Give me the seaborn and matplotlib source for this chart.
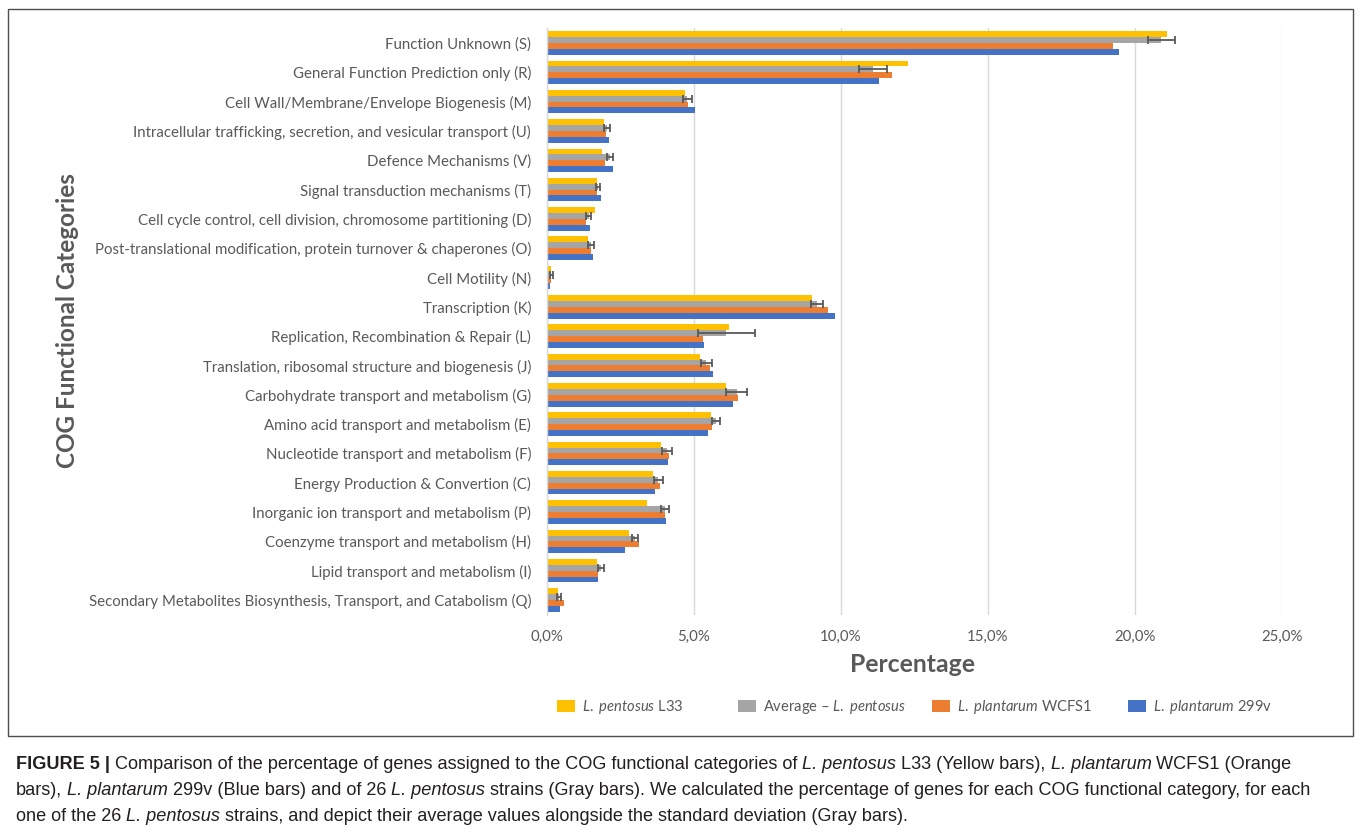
import matplotlib
matplotlib.use("Agg")
import matplotlib.pyplot as plt
from matplotlib.patches import Patch, Rectangle
import seaborn as sns
import pandas as pd

# ---- data (percent of genes per COG functional category) ----
categories = [
    "Function Unknown (S)",
    "General Function Prediction only (R)",
    "Cell Wall/Membrane/Envelope Biogenesis (M)",
    "Intracellular trafficking, secretion, and vesicular transport (U)",
    "Defence Mechanisms (V)",
    "Signal transduction mechanisms (T)",
    "Cell cycle control, cell division, chromosome partitioning (D)",
    "Post-translational modification, protein turnover & chaperones (O)",
    "Cell Motility (N)",
    "Transcription (K)",
    "Replication, Recombination & Repair (L)",
    "Translation, ribosomal structure and biogenesis (J)",
    "Carbohydrate transport and metabolism (G)",
    "Amino acid transport and metabolism (E)",
    "Nucleotide transport and metabolism (F)",
    "Energy Production & Convertion (C)",
    "Inorganic ion transport and metabolism (P)",
    "Coenzyme transport and metabolism (H)",
    "Lipid transport and metabolism (I)",
    "Secondary Metabolites Biosynthesis, Transport, and Catabolism (Q)",
]

pentosus_l33 = [21.10, 12.28, 4.68, 1.95, 1.87, 1.69, 1.63, 1.40, 0.12, 9.00,
                6.19, 5.20, 6.09, 5.59, 3.89, 3.59, 3.39, 2.78, 1.69, 0.37]
pentosus_avg = [20.90, 11.08, 4.77, 2.05, 2.14, 1.73, 1.42, 1.50, 0.15, 9.18,
                6.10, 5.42, 6.45, 5.76, 4.07, 3.78, 4.01, 3.00, 1.83, 0.42]
pentosus_sd = [0.45, 0.48, 0.15, 0.10, 0.10, 0.07, 0.08, 0.10, 0.04, 0.20,
               0.97, 0.18, 0.36, 0.14, 0.17, 0.15, 0.14, 0.10, 0.10, 0.07]
plantarum_wcfs1 = [19.25, 11.74, 4.78, 2.02, 1.97, 1.70, 1.31, 1.51, 0.12, 9.55,
                   5.31, 5.55, 6.48, 5.61, 4.15, 3.85, 4.01, 3.13, 1.73, 0.57]
plantarum_299v = [19.45, 11.28, 5.03, 2.12, 2.25, 1.85, 1.45, 1.56, 0.09, 9.80,
                  5.35, 5.66, 6.31, 5.48, 4.12, 3.69, 4.06, 2.67, 1.75, 0.45]

series = ["L33", "Average", "WCFS1", "299v"]
series_labels = [
    r"$\mathit{L.}$ $\mathit{pentosus}$ L33",
    r"Average – $\mathit{L.}$ $\mathit{pentosus}$",
    r"$\mathit{L.}$ $\mathit{plantarum}$ WCFS1",
    r"$\mathit{L.}$ $\mathit{plantarum}$ 299v",
]
series_colors = ["#FFC000", "#A5A5A5", "#ED7D31", "#4472C4"]

xticks = [0, 5, 10, 15, 20, 25]
xtick_labels = ["0,0%", "5,0%", "10,0%", "15,0%", "20,0%", "25,0%"]

# ---- styling ----
sns.set_theme(style="white")
plt.rcParams["font.family"] = ["Lato", "DejaVu Sans"]
plt.rcParams["mathtext.fontset"] = "custom"
plt.rcParams["mathtext.rm"] = "Lato"
plt.rcParams["mathtext.it"] = "Lato:italic"
plt.rcParams["mathtext.bf"] = "Lato:bold"

TEXT = "#595959"
GRID = "#D9D9D9"
W, H = 1360, 839

rows = []
for name, vals in zip(series, [pentosus_l33, pentosus_avg, plantarum_wcfs1, plantarum_299v]):
    for cat, v in zip(categories, vals):
        rows.append({"category": cat, "series": name, "value": v})
df = pd.DataFrame(rows)

fig = plt.figure(figsize=(W / 100, H / 100), dpi=100)
fig.patch.set_facecolor("white")
ax = fig.add_axes([547 / W, 1 - 614.7 / H, 735 / W, 586.4 / H])

sns.barplot(data=df, y="category", x="value", hue="series",
            order=categories, hue_order=series, palette=series_colors,
            orient="h", errorbar=None, width=0.8, linewidth=0,
            saturation=1, legend=False, ax=ax)

# standard deviation whiskers on the species-average bars
avg_bars = ax.containers[series.index("Average")]
ys = [p.get_y() + p.get_height() / 2 for p in avg_bars]
xs = [p.get_width() for p in avg_bars]
ax.errorbar(xs, ys, xerr=pentosus_sd, fmt="none", ecolor="#595959",
            elinewidth=1.3, capsize=3.2, capthick=1.3, zorder=5)

ax.set_xlim(0, 25)
ax.set_ylim(len(categories) - 0.5, -0.5)
ax.set_xticks(xticks)
ax.set_xticklabels(xtick_labels)
ax.set_xlabel("")
ax.set_ylabel("")
ax.grid(axis="x", color=GRID, linewidth=1)
ax.grid(axis="y", visible=False)
ax.set_axisbelow(True)
for side in ["top", "right", "bottom"]:
    ax.spines[side].set_visible(False)
ax.spines["left"].set_color(GRID)
ax.spines["left"].set_linewidth(1)
ax.tick_params(axis="both", length=0, labelcolor=TEXT, labelsize=10.8)
ax.tick_params(axis="y", pad=11.5)
ax.tick_params(axis="x", pad=11)

fig.text(913 / W, 1 - 665 / H, "Percentage", ha="center", va="center",
         fontsize=17.8, fontweight="bold", color=TEXT)
fig.text(68 / W, 1 - 321 / H, "COG Functional Categories", ha="center",
         va="center", rotation=90, fontsize=17.5, fontweight="bold", color=TEXT)

# legend: one entry per slot along the bottom
legend_x = [557, 738, 932, 1128]
for x, lab, col in zip(legend_x, series_labels, series_colors):
    fig.legend(handles=[Patch(facecolor=col, edgecolor="none")], labels=[lab],
               loc="center left", bbox_to_anchor=(x / W, 1 - 707 / H),
               frameon=False, borderpad=0, borderaxespad=0,
               handlelength=1.2, handleheight=0.9, handletextpad=0.5,
               fontsize=10.6, labelcolor=TEXT)

# outer frame around the chart
fig.add_artist(Rectangle((8 / W, 1 - 736 / H), (1353 - 8) / W, (736 - 9) / H,
                         transform=fig.transFigure, fill=False,
                         edgecolor="#4d4d4d", linewidth=1))

# ---- caption with mixed styles ----
CAP_FONT = ["Liberation Sans", "DejaVu Sans"]
CAP_SIZE = 13.1
renderer = fig.canvas.get_renderer()


def text_width(s, style, weight):
    t = fig.text(0, 0, s, fontsize=CAP_SIZE, family=CAP_FONT,
                 fontstyle=style, fontweight=weight)
    w = t.get_window_extent(renderer).width
    t.remove()
    return w


def draw_runs(runs, x_px, baseline_px):
    x = x_px
    for s, style, weight in runs:
        space_w = text_width("a a", style, weight) - text_width("aa", style, weight)
        lead = len(s) - len(s.lstrip(" "))
        trail = len(s) - len(s.rstrip(" "))
        x += lead * space_w
        core = s.strip(" ")
        t = fig.text(x / W, 1 - baseline_px / H, core, fontsize=CAP_SIZE,
                     family=CAP_FONT, fontstyle=style, fontweight=weight,
                     color="#231f20", ha="left", va="baseline")
        x = t.get_window_extent(renderer).x1 + trail * space_w


N, I, B = ("normal", "normal"), ("italic", "normal"), ("normal", "bold")
caption = [
    [("FIGURE 5 |", *B),
     (" Comparison of the percentage of genes assigned to the COG functional categories of ", *N),
     ("L. pentosus", *I), (" L33 (Yellow bars), ", *N),
     ("L. plantarum", *I), (" WCFS1 (Orange", *N)],
    [("bars), ", *N), ("L. plantarum", *I),
     (" 299v (Blue bars) and of 26 ", *N), ("L. pentosus", *I),
     (" strains (Gray bars). We calculated the percentage of genes for each COG functional category, for each", *N)],
    [("one of the 26 ", *N), ("L. pentosus", *I),
     (" strains, and depict their average values alongside the standard deviation (Gray bars).", *N)],
]
for k, line in enumerate(caption):
    draw_runs(line, 16, 769 + 26 * k)

fig.savefig("out.png", dpi=100, facecolor="white")
